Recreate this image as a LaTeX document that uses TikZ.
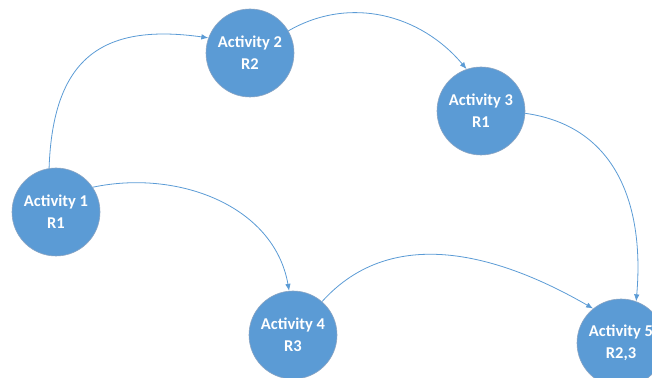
\documentclass[tikz,border=0pt]{standalone}
\usepackage{fontspec}
\setmainfont{Carlito}
\usetikzlibrary{positioning,arrows.meta}
\definecolor{actblue}{RGB}{91,155,213}
\definecolor{actrim}{RGB}{140,165,195}

\begin{document}
\begin{tikzpicture}[
    x=1pt, y=1pt,
    actnode/.style={draw=actrim,line width=0.6pt,fill=actblue,circle,minimum size=88pt,inner sep=0pt,
      text=white,align=center,font=\fontsize{16.5}{22}\selectfont\bfseries},
    link/.style={draw=actblue,line width=0.8pt,-{Latex[length=7pt,width=5.5pt]}}
    ]
    \useasboundingbox (0,0) rectangle (652,377);

    \node[actnode] (act1) at (56,165) {Activity 1\\R1};
    \node[actnode] (act2) at (250,324) {Activity 2\\R2};
    \node[actnode] (act3) at (481,266) {Activity 3\\R1};
    \node[actnode] (act4) at (293,42) {Activity 4\\R3};
    \node[actnode] (act5) at (621,34) {Activity 5\\R2,3};

    \path (act1.99) edge[link,out=88,in=172,looseness=1.35] (act2.160)
    (act2.30) edge[link,out=30,in=130] (act3.109)
    (act3.-3) edge[link,out=-8,in=85,looseness=1.1] (act5.70)
    (act1.34) edge[link,out=12,in=100] (act4.95)
    (act4.49) edge[link,out=48,in=150] (act5.129)
    ;

\end{tikzpicture}
\end{document}
